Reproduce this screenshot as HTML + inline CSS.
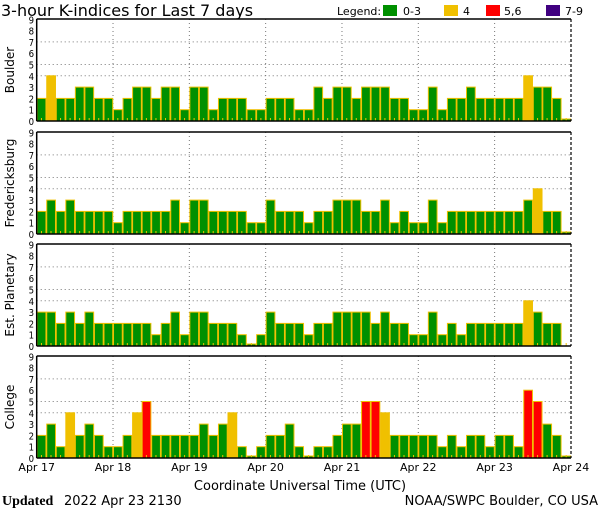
<!DOCTYPE html>
<html><head><meta charset="utf-8"><style>
body{margin:0;background:#fff;width:600px;height:510px;overflow:hidden}
svg{display:block}
text{font-family:"DejaVu Sans","Liberation Sans",sans-serif}
</style></head><body>
<svg id="s" width="600" height="510" xmlns="http://www.w3.org/2000/svg">
<text x="1" y="16" font-size="16">3-hour K-indices for Last 7 days</text>
<text x="337" y="15" font-size="11">Legend:</text>
<rect x="383" y="5" width="14" height="11" fill="#009000"/><text x="403" y="15" font-size="11">0-3</text>
<rect x="444" y="5" width="14" height="11" fill="#f0c000"/><text x="463" y="15" font-size="11">4</text>
<rect x="486" y="5" width="14" height="11" fill="#ff0000"/><text x="504" y="15" font-size="11">5,6</text>
<rect x="546" y="5" width="14" height="11" fill="#400080"/><text x="565" y="15" font-size="11">7-9</text>
<text x="300" y="490" font-size="13" text-anchor="middle">Coordinate Universal Time (UTC)</text>
<text x="2" y="505" font-size="14" font-weight="bold" style="font-family:'Liberation Serif',serif">Updated</text>
<text x="64" y="505" font-size="13">2022 Apr 23 2130</text>
<text x="598" y="505" font-size="13" text-anchor="end">NOAA/SWPC Boulder, CO USA</text>
</svg>
<script>
var s=document.getElementById('s'),h='';
var D=[
["Boulder",19,[2,4,2,2,3,3,2,2,1,2,3,3,2,3,3,1,3,3,1,2,2,2,1,1,2,2,2,1,1,3,2,3,3,2,3,3,3,2,2,1,1,3,1,2,2,3,2,2,2,2,2,4,3,3,2,0]],
["Fredericksburg",132,[2,3,2,3,2,2,2,2,1,2,2,2,2,2,3,1,3,3,2,2,2,2,1,1,3,2,2,2,1,2,2,3,3,3,2,2,3,1,2,1,1,3,1,2,2,2,2,2,2,2,2,3,4,2,2,0]],
["Est. Planetary",244,[3,3,2,3,2,3,2,2,2,2,2,2,1,2,3,1,3,3,2,2,2,1,0,1,3,2,2,2,1,2,2,3,3,3,3,2,3,2,2,1,1,3,1,2,1,2,2,2,2,2,2,4,3,2,2,-1]],
["College",356,[2,3,1,4,2,3,2,1,1,2,4,5,2,2,2,2,2,3,2,3,4,1,0,1,2,2,3,1,0,1,1,2,3,3,5,5,4,2,2,2,2,2,1,2,1,2,2,1,2,2,1,6,5,3,2,0]]];
var L=36.7,R=571,W=9.54,U=11.3,H=102;
D.forEach(function(p){
 var t=p[1],b=t+H;
 [4,5,7].forEach(function(v){var y=b-v*U;h+='<line x1="'+L+'" x2="'+R+'" y1="'+y+'" y2="'+y+'" stroke="#777" stroke-dasharray="1,3"/>';});
 for(var d=1;d<7;d++){var x=L+76.32*d;h+='<line x1="'+x+'" x2="'+x+'" y1="'+t+'" y2="'+b+'" stroke="#777" stroke-dasharray="1,3"/>';}
 p[2].forEach(function(v,i){var x=L+W*i;
  if(v>=0){var hh=v==0?2:v*U;var c=v<=3?'#009000':v==4?'#f0c000':v<=6?'#ff0000':'#400080';
  h+='<rect x="'+(x+0.5)+'" y="'+(b-hh)+'" width="'+(W-0.8)+'" height="'+hh+'" fill="'+c+'" stroke="#f0c000" stroke-width="1"/>';}
  h+='<line x1="'+(x+W/2)+'" x2="'+(x+W/2)+'" y1="'+(b-3)+'" y2="'+b+'" stroke="#f0c000"/>';
 });
 h+='<line x1="'+L+'" x2="'+R+'" y1="'+t+'" y2="'+t+'" stroke="#000" stroke-width="1.5"/>';
 h+='<line x1="'+L+'" x2="'+R+'" y1="'+b+'" y2="'+b+'" stroke="#000" stroke-width="1.5"/>';
 h+='<line x1="'+L+'" x2="'+L+'" y1="'+t+'" y2="'+b+'" stroke="#000" stroke-width="1.5"/>';
 h+='<line x1="'+R+'" x2="'+R+'" y1="'+t+'" y2="'+b+'" stroke="#000" stroke-width="1.2" stroke-dasharray="3,2"/>';
 for(var v=0;v<=9;v++){h+='<text x="34" y="'+(b-v*U+4)+'" font-size="9.5" text-anchor="end" transform="scale(1,1)" style="font-stretch:condensed">'+v+'</text>';}
 var cy=t+H/2;h+='<text transform="translate(14,'+cy+') rotate(-90)" font-size="12" text-anchor="middle">'+p[0]+'</text>';
});
for(var d=0;d<=7;d++){h+='<text x="'+(L+76.32*d)+'" y="471" font-size="11" text-anchor="middle">Apr '+(17+d)+'</text>';}
s.insertAdjacentHTML('beforeend',h);
</script>
</body></html>
